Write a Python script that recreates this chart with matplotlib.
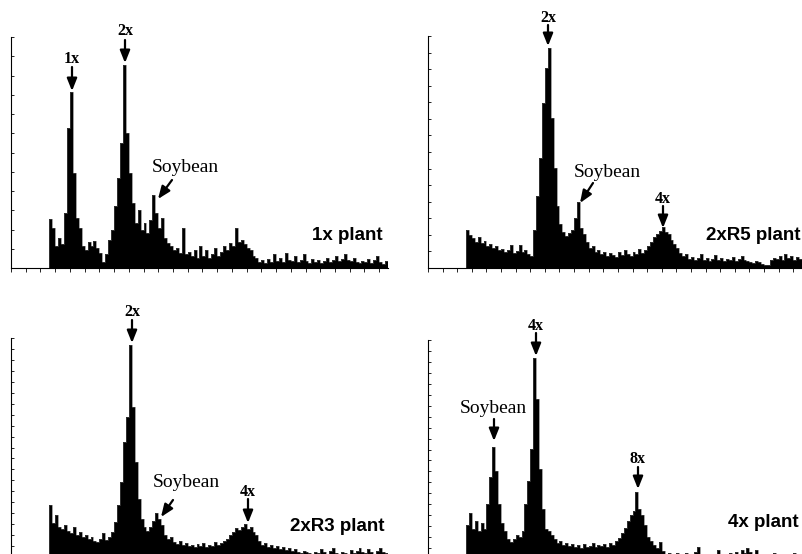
import numpy as np
import matplotlib
matplotlib.use("Agg")
import matplotlib.pyplot as plt
from matplotlib.patches import FancyArrowPatch

W, H = 802, 554

# histogram channels: bins of 8 channels starting at channel 104, axis 0..1024
BIN_START = 104
BIN_WIDTH = 8
X_MAX = 1024

counts_1x = [49, 40, 22, 30, 24, 55, 140, 176, 95, 50,
             40, 22, 18, 26, 22, 27, 20, 15, 6, 14,
             28, 38, 62, 90, 125, 203, 135, 95, 65, 45,
             58, 38, 45, 35, 48, 73, 55, 40, 50, 30,
             25, 22, 18, 20, 15, 40, 14, 16, 12, 18,
             10, 22, 12, 18, 10, 14, 20, 12, 16, 22,
             18, 25, 22, 40, 26, 28, 24, 20, 18, 12,
             10, 6, 8, 5, 9, 6, 14, 7, 10, 6,
             15, 8, 7, 12, 6, 8, 14, 7, 5, 9,
             6, 8, 5, 7, 10, 6, 8, 12, 7, 9,
             14, 8, 7, 10, 6, 5, 7, 6, 9, 5,
             8, 12, 6, 4, 7]

counts_2xR5 = [38, 33, 30, 26, 31, 25, 27, 22, 24, 20,
               22, 18, 19, 16, 18, 23, 15, 17, 23, 16,
               18, 14, 12, 38, 72, 110, 165, 200, 220, 150,
               100, 62, 44, 36, 32, 35, 38, 50, 66, 40,
               34, 26, 20, 22, 16, 18, 14, 16, 12, 15,
               13, 11, 16, 13, 18, 14, 12, 16, 14, 19,
               15, 18, 22, 26, 31, 34, 37, 41, 36, 34,
               28, 24, 20, 15, 12, 14, 9, 11, 8, 10,
               14, 8, 10, 7, 9, 13, 8, 10, 7, 9,
               8, 11, 7, 9, 12, 8, 7, 6, 5, 7,
               6, 4, 3, 3, 8, 10, 9, 12, 8, 14,
               10, 12, 8, 11, 9]

counts_2xR3 = [52, 34, 42, 30, 28, 32, 26, 24, 30, 22,
               25, 20, 22, 18, 20, 16, 15, 18, 24, 17,
               20, 25, 35, 52, 75, 115, 140, 212, 150, 95,
               58, 38, 30, 26, 30, 36, 44, 38, 32, 22,
               18, 20, 15, 13, 16, 12, 14, 11, 12, 10,
               13, 11, 14, 10, 12, 11, 15, 12, 14, 16,
               18, 22, 25, 29, 27, 30, 33, 28, 30, 25,
               22, 16, 12, 14, 10, 12, 9, 11, 8, 10,
               7, 9, 6, 8, 5, 4, 6, 5, 4, 3,
               5, 4, 8, 5, 3, 6, 9, 4, 3, 5,
               4, 3, 7, 4, 6, 9, 5, 4, 8, 5,
               3, 6, 9, 5, 4]

counts_4x = [34, 46, 30, 38, 28, 36, 30, 55, 82, 112,
             88, 55, 36, 28, 20, 17, 20, 24, 22, 28,
             55, 78, 110, 201, 160, 90, 50, 30, 28, 24,
             20, 16, 18, 14, 16, 13, 15, 12, 14, 11,
             15, 12, 13, 16, 12, 14, 13, 15, 12, 16,
             14, 18, 21, 26, 31, 38, 44, 48, 67, 50,
             44, 34, 22, 18, 14, 11, 17, 8, 5, 6,
             4, 5, 6, 4, 5, 6, 4, 5, 7, 12,
             4, 2, 1, 2, 1, 3, 9, 4, 5, 3,
             6, 4, 7, 5, 9, 6, 11, 7, 5, 9,
             4, 3, 5, 3, 4, 6, 3, 5, 4, 3,
             5, 4, 6, 3, 2]

plant_labels = ["1x plant", "2xR5 plant", "2xR3 plant", "4x plant"]

# axes rectangles in pixels: (left, top, width, height)
panels = [
    dict(values=counts_1x, rect=(11, 37, 377, 231), nyt=12,
         label=plant_labels[0], label_xy=(383, 240),
         marks=[("1x", (72, 63), (72, 67), (72, 91)),
                ("2x", (125, 35), (125, 40), (125, 63))],
         soy=((152, 172), "left", (172, 180), (158, 199))),
    dict(values=counts_2xR5, rect=(428, 36, 374, 232), nyt=14,
         label=plant_labels[1], label_xy=(801, 240),
         marks=[("2x", (548, 22), (548, 25), (548, 46)),
                ("4x", (663, 203), (663, 206), (663, 228))],
         soy=((574, 177), "left", (593, 183), (580, 203))),
    dict(values=counts_2xR3, rect=(11, 338, 377, 219), nyt=20,
         label=plant_labels[2], label_xy=(385, 531),
         marks=[("2x", (132, 316), (132, 320), (132, 343)),
                ("4x", (248, 496), (248, 499), (248, 523))],
         soy=((153, 487), "left", (173, 500), (161, 517))),
    dict(values=counts_4x, rect=(428, 340, 374, 219), nyt=20,
         label=plant_labels[3], label_xy=(799, 527),
         marks=[("4x", (536, 330), (536, 333), (536, 356)),
                ("8x", (638, 463), (638, 467), (638, 489))],
         soy=((493, 413), "center", (494, 419), (494, 441))),
]

fig = plt.figure(figsize=(W / 100, H / 100), dpi=100)


def fx(x):
    return x / W


def fy(y):
    return 1 - y / H


def arrow(p0, p1):
    a = FancyArrowPatch((fx(p0[0]), fy(p0[1])), (fx(p1[0]), fy(p1[1])),
                        transform=fig.transFigure,
                        arrowstyle="-|>,head_length=0.75,head_width=0.3",
                        mutation_scale=10, lw=1.6, color="black",
                        shrinkA=0, shrinkB=0)
    fig.add_artist(a)


for p in panels:
    l, t, w, h = p["rect"]
    ax = fig.add_axes([l / W, (H - (t + h)) / H, w / W, h / H])
    vals = np.array(p["values"], dtype=float)
    edges = BIN_START + BIN_WIDTH * np.arange(len(vals) + 1)
    ax.stairs(vals, edges, fill=True, color="black", lw=0)
    ax.stairs(vals, edges, fill=False, color="#555555", lw=0.4)
    ax.set_xlim(0, X_MAX)
    ymax = h  # counts scaled to axis height
    ax.set_ylim(0, ymax)
    ax.set_xticks(np.arange(0, X_MAX + 1, 40))
    ax.set_yticks(np.linspace(0, ymax, p["nyt"] + 1))
    ax.tick_params(axis="x", direction="out", length=3, width=0.6,
                   labelbottom=False)
    ax.tick_params(axis="y", direction="in", length=2, width=0.6,
                   labelleft=False)
    for s in ("top", "right"):
        ax.spines[s].set_visible(False)
    for s in ("left", "bottom"):
        ax.spines[s].set_linewidth(0.8)
    ax.patch.set_alpha(0)

    fig.text(fx(p["label_xy"][0]), fy(p["label_xy"][1]), p["label"],
             ha="right", va="baseline", fontsize=13.5, fontweight="bold",
             family="Liberation Sans")
    for txt, txy, a0, a1 in p["marks"]:
        fig.text(fx(txy[0]), fy(txy[1]), txt, ha="center", va="baseline",
                 fontsize=11.5, fontweight="bold", family="Liberation Serif")
        arrow(a0, a1)
    (sx, sy), sha, s0, s1 = p["soy"]
    fig.text(fx(sx), fy(sy), "Soybean", ha=sha, va="baseline",
             fontsize=14, family="Liberation Serif")
    arrow(s0, s1)

fig.savefig("out.png", dpi=100)
